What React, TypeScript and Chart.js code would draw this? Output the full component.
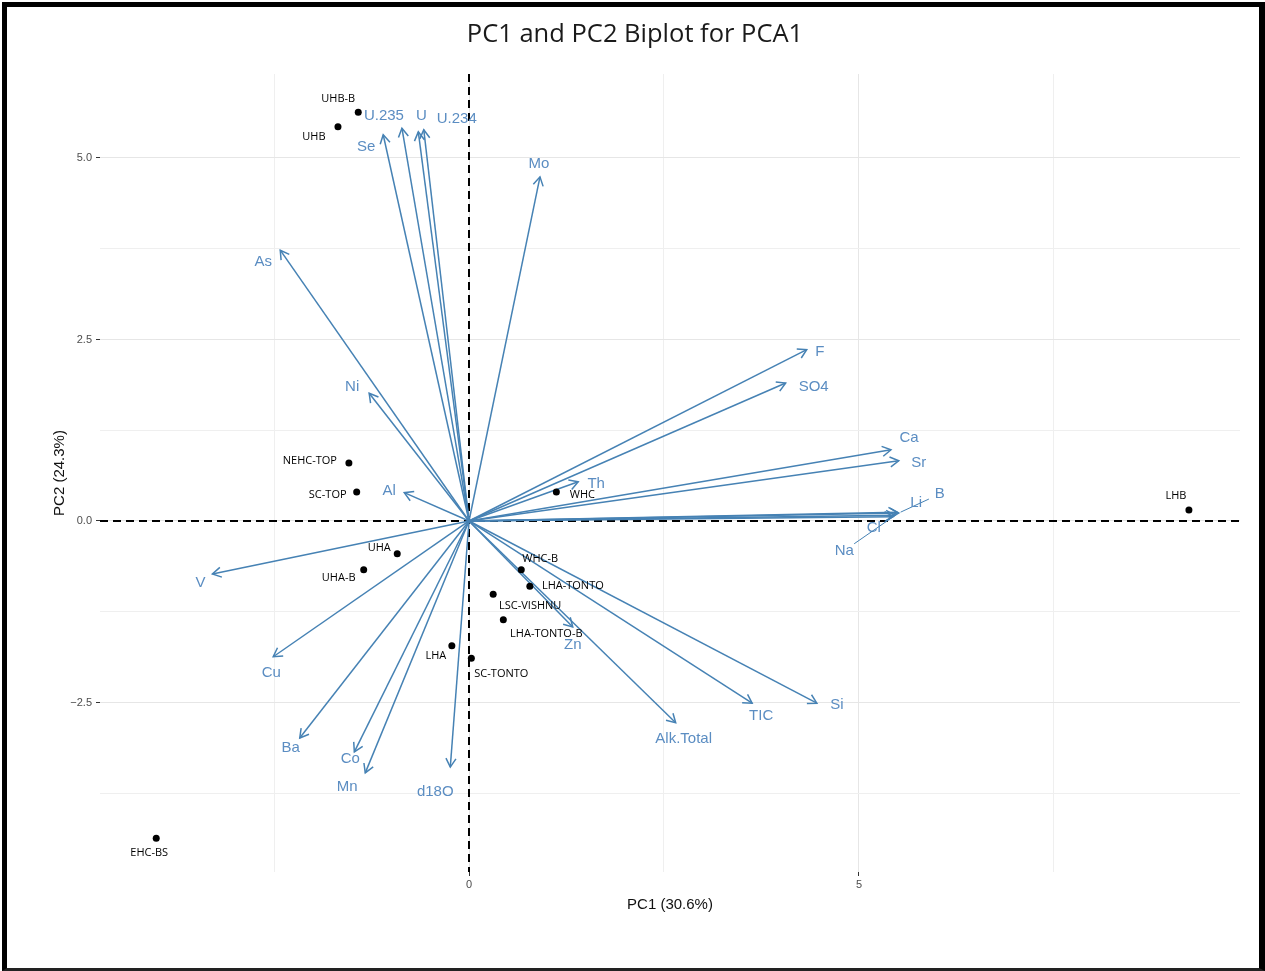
import React, { useEffect, useRef } from "react";
import { Chart, registerables } from "chart.js";
Chart.register(...registerables);

// ---- Data (PCA scores and loadings) ----
const sampleNames = ["UHB-B", "UHB", "NEHC-TOP", "SC-TOP", "WHC", "UHA", "UHA-B", "WHC-B", "LHA-TONTO", "LSC-VISHNU", "LHA-TONTO-B", "LHA", "SC-TONTO", "EHC-BS", "LHB"];
const samplePC1 = [-1.42, -1.68, -1.54, -1.44, 1.12, -0.92, -1.35, 0.67, 0.78, 0.31, 0.44, -0.22, 0.03, -4.01, 9.23];
const samplePC2 = [5.63, 5.43, 0.8, 0.4, 0.4, -0.45, -0.67, -0.67, -0.9, -1.01, -1.36, -1.72, -1.89, -4.37, 0.15];

const variableNames = ["Se", "U.235", "U", "U.234", "Mo", "As", "Ni", "Al", "Th", "F", "SO4", "Ca", "Sr", "B", "Li", "Cl", "Na", "V", "Cu", "Ba", "Co", "Mn", "d18O", "Zn", "Alk.Total", "TIC", "Si"];
const loadingPC1 = [-1.1, -0.86, -0.65, -0.58, 0.91, -2.42, -1.28, -0.83, 1.4, 4.33, 4.06, 5.41, 5.51, 5.51, 5.49, 5.46, 5.44, -3.29, -2.51, -2.17, -1.47, -1.33, -0.24, 1.33, 2.65, 3.63, 4.46];
const loadingPC2 = [5.32, 5.41, 5.36, 5.39, 4.74, 3.73, 1.76, 0.39, 0.54, 2.36, 1.9, 0.98, 0.83, 0.11, 0.12, 0.08, 0.06, -0.73, -1.87, -2.99, -3.18, -3.47, -3.39, -1.46, -2.78, -2.51, -2.51];

const xTickLabels = ["0", "5"];
const yTickLabels = ["−2.5", "0.0", "2.5", "5.0"];

const chartTitle = "PC1 and PC2 Biplot for PCA1";

// ---- Layout / styling (pixel offsets for repelled text labels) ----
const sampleLabelOffsets: Record<string, [number, number]> = {
  "UHB-B": [-20, -13], UHB: [-24, 10], "NEHC-TOP": [-39, -2], "SC-TOP": [-29, 3], WHC: [26, 3],
  UHA: [-18, -6], "UHA-B": [-25, 8], "WHC-B": [19, -11], "LHA-TONTO": [43, 0], "LSC-VISHNU": [37, 12],
  "LHA-TONTO-B": [43, 14], LHA: [-16, 10], "SC-TONTO": [30, 16], "EHC-BS": [-7, 15], LHB: [-13, -14],
};
const variableLabelOffsets: Record<string, [number, number]> = {
  Se: [-17, 12], "U.235": [-18, -12], U: [3, -16], "U.234": [33, -11], Mo: [-1, -13], As: [-17, 12],
  Ni: [-17, -6], Al: [-15, -2], Th: [18, 2], F: [13, 2], SO4: [28, 4], Ca: [18, -12], Sr: [20, 2],
  B: [41, -19], Li: [19, -9], Cl: [-21, 13], Na: [-49, 34], V: [-12, 9], Cu: [-2, 16], Ba: [-9, 10],
  Co: [-4, 7], Mn: [-18, 14], d18O: [-15, 25], Zn: [0, 18], "Alk.Total": [8, 16], TIC: [9, 13], Si: [20, 2],
};
const segmentLabels = ["B", "Na"];

const ARROW = "#4682B4";
const ARROW_TEXT = "#5b8dc2";

const biplotPlugin = {
  id: "biplot",
  beforeDatasetsDraw(chart: any) {
    const { ctx, chartArea, scales } = chart;
    const x0 = scales.x.getPixelForValue(0);
    const y0 = scales.y.getPixelForValue(0);
    ctx.save();
    ctx.strokeStyle = "#000";
    ctx.lineWidth = 2;
    ctx.setLineDash([8, 5]);
    ctx.beginPath();
    ctx.moveTo(chartArea.left, y0);
    ctx.lineTo(chartArea.right, y0);
    ctx.moveTo(x0, chartArea.top);
    ctx.lineTo(x0, chartArea.bottom);
    ctx.stroke();
    ctx.restore();
  },
  afterDatasetsDraw(chart: any) {
    const { ctx } = chart;
    ctx.save();
    // arrowheads + variable labels
    chart.data.datasets.forEach((ds: any, i: number) => {
      if (ds.kind !== "arrow") return;
      const meta = chart.getDatasetMeta(i);
      const p0 = meta.data[0];
      const p1 = meta.data[1];
      const ang = Math.atan2(p1.y - p0.y, p1.x - p0.x);
      const len = 10;
      const spread = Math.PI / 6;
      ctx.strokeStyle = ARROW;
      ctx.lineWidth = 1.5;
      ctx.setLineDash([]);
      ctx.beginPath();
      ctx.moveTo(p1.x - len * Math.cos(ang - spread), p1.y - len * Math.sin(ang - spread));
      ctx.lineTo(p1.x, p1.y);
      ctx.lineTo(p1.x - len * Math.cos(ang + spread), p1.y - len * Math.sin(ang + spread));
      ctx.stroke();
      const name = ds.label;
      const off = variableLabelOffsets[name] || [0, 0];
      const lx = p1.x + off[0];
      const ly = p1.y + off[1];
      if (segmentLabels.includes(name)) {
        const dx = p1.x - lx;
        const dy = p1.y - ly;
        const d = Math.hypot(dx, dy);
        ctx.lineWidth = 1;
        ctx.beginPath();
        ctx.moveTo(lx + (dx / d) * 12, ly + (dy / d) * 12);
        ctx.lineTo(p1.x + (dx / d) * -2, p1.y + (dy / d) * -2);
        ctx.stroke();
      }
      ctx.fillStyle = ARROW_TEXT;
      ctx.font = "15px 'Liberation Sans', Arial, sans-serif";
      ctx.textAlign = "center";
      ctx.textBaseline = "middle";
      ctx.fillText(name, lx, ly);
    });
    // sample labels
    chart.data.datasets.forEach((ds: any, i: number) => {
      if (ds.kind !== "samples") return;
      const meta = chart.getDatasetMeta(i);
      meta.data.forEach((pt: any, j: number) => {
        const name = sampleNames[j];
        const off = sampleLabelOffsets[name] || [0, 0];
        ctx.fillStyle = "#000";
        ctx.font = "11px 'Open Sans', sans-serif";
        ctx.textAlign = "center";
        ctx.textBaseline = "middle";
        ctx.fillText(name, pt.x + off[0], pt.y + off[1]);
      });
    });
    ctx.restore();
  },
  afterDraw(chart: any) {
    const { ctx } = chart;
    ctx.save();
    ctx.fillStyle = "#1a1a1a";
    ctx.font = "25.5px 'Open Sans', sans-serif";
    ctx.textAlign = "center";
    ctx.textBaseline = "middle";
    ctx.fillText(chartTitle, 635, 35);
    ctx.restore();
  },
};

const isMultiple = (v: number, step: number) => Math.abs(v / step - Math.round(v / step)) < 1e-6;

export default function App() {
  const ref = useRef<HTMLCanvasElement | null>(null);
  useEffect(() => {
    if (!ref.current) return;
    const arrowSets = variableNames.map((name, i) => ({
      kind: "arrow",
      label: name,
      data: [
        { x: 0, y: 0 },
        { x: loadingPC1[i], y: loadingPC2[i] },
      ],
      showLine: true,
      borderColor: ARROW,
      borderWidth: 1.5,
      pointRadius: 0,
      order: 2,
    }));
    const sampleSet = {
      kind: "samples",
      label: "samples",
      data: sampleNames.map((_, i) => ({ x: samplePC1[i], y: samplePC2[i] })),
      showLine: false,
      pointRadius: 3.5,
      pointBackgroundColor: "#000",
      pointBorderWidth: 0,
      order: 1,
    };
    const chart = new Chart(ref.current, {
      type: "scatter",
      data: { datasets: [...arrowSets, sampleSet] as any },
      options: {
        animation: false,
        responsive: false,
        maintainAspectRatio: false,
        layout: { padding: { left: 4, right: 25, top: 74, bottom: 49 } },
        plugins: {
          legend: { display: false },
          tooltip: { enabled: false },
          title: { display: false },
        },
        scales: {
          x: {
            type: "linear",
            min: -4.731,
            max: 9.885,
            afterFit: (s: any) => { s.height = 50; },
            border: { display: false },
            grid: {
              color: (c: any) => (isMultiple(c.tick.value, 5) ? "#e6e6e6" : "#efefef"),
              lineWidth: 1,
              tickLength: 4,
              tickColor: (c: any) => (isMultiple(c.tick.value, 5) ? "#333" : "rgba(0,0,0,0)"),
            },
            ticks: {
              stepSize: 2.5,
              includeBounds: false,
              padding: 2,
              color: "#4d4d4d",
              font: { family: "'Liberation Sans', Arial, sans-serif", size: 11 },
              maxRotation: 0,
              autoSkip: false,
              callback: (v: any) => {
                const idx = [0, 5].findIndex((t) => Math.abs(t - v) < 1e-6);
                return idx >= 0 ? xTickLabels[idx] : "";
              },
            },
            title: {
              display: true,
              text: "PC1 (30.6%)",
              color: "#111",
              font: { family: "'Liberation Sans', Arial, sans-serif", size: 15, lineHeight: 1.2 },
              padding: { top: 0, bottom: 8 },
            },
          },
          y: {
            type: "linear",
            min: -4.835,
            max: 6.157,
            afterFit: (s: any) => { s.width = 96; },
            border: { display: false },
            grid: {
              color: (c: any) => (isMultiple(c.tick.value, 2.5) ? "#e6e6e6" : "#efefef"),
              lineWidth: 1,
              tickLength: 4,
              tickColor: (c: any) => (isMultiple(c.tick.value, 2.5) ? "#333" : "rgba(0,0,0,0)"),
            },
            ticks: {
              stepSize: 1.25,
              includeBounds: false,
              padding: 4,
              color: "#4d4d4d",
              font: { family: "'Liberation Sans', Arial, sans-serif", size: 11 },
              autoSkip: false,
              callback: (v: any) => {
                const idx = [-2.5, 0, 2.5, 5].findIndex((t) => Math.abs(t - v) < 1e-6);
                return idx >= 0 ? yTickLabels[idx] : "";
              },
            },
            title: {
              display: true,
              text: "PC2 (24.3%)",
              color: "#111",
              font: { family: "'Liberation Sans', Arial, sans-serif", size: 15, lineHeight: 1.2 },
              padding: { top: 47, bottom: 0 },
            },
          },
        },
      },
      plugins: [biplotPlugin],
    });
    return () => chart.destroy();
  }, []);

  return (
    <div style={{ position: "absolute", left: 0, top: 0, width: 1265, height: 971, background: "#fff" }}>
      <canvas ref={ref} width={1265} height={971} style={{ position: "absolute", left: 0, top: 0, width: 1265, height: 971 }} />
      <div
        style={{
          position: "absolute",
          left: 2,
          top: 2,
          width: 1263,
          height: 969,
          boxSizing: "border-box",
          borderLeft: "5px solid #000",
          borderTop: "5px solid #000",
          borderRight: "6px solid #000",
          borderBottom: "3px solid #222",
          pointerEvents: "none",
        }}
      />
    </div>
  );
}
